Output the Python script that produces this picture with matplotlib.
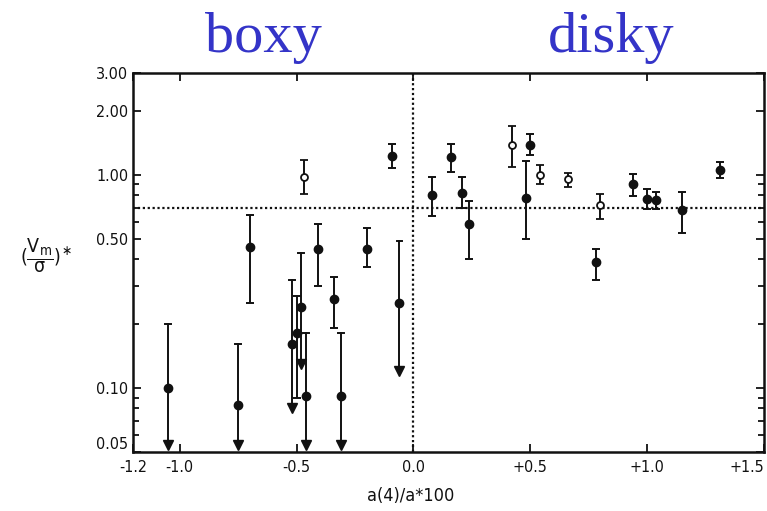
import matplotlib
matplotlib.use("Agg")
import matplotlib.pyplot as plt
import numpy as np

plt.rcParams['font.family'] = ['DejaVu Sans']
plt.rcParams['font.stretch'] = 'condensed'
plt.rcParams['axes.unicode_minus'] = False

# points with two-sided error bars: x, value, lower end, upper end
fx = [-0.09, -0.70, -0.41, -0.20, -0.34, -0.50,
      0.08, 0.16, 0.21, 0.24, 0.50, 0.48, 0.78, 0.94, 1.00, 1.04, 1.15, 1.31]
fy = [1.22, 0.46, 0.45, 0.45, 0.26, 0.18,
      0.80, 1.21, 0.82, 0.59, 1.38, 0.78, 0.39, 0.90, 0.77, 0.76, 0.68, 1.05]
f_lo = [1.07, 0.25, 0.30, 0.37, 0.19, 0.09,
        0.64, 1.03, 0.70, 0.40, 1.24, 0.50, 0.32, 0.79, 0.69, 0.69, 0.53, 0.96]
f_hi = [1.39, 0.65, 0.59, 0.56, 0.33, 0.27,
        0.98, 1.39, 0.98, 0.75, 1.55, 1.16, 0.45, 1.01, 0.86, 0.83, 0.83, 1.15]

# open symbols
ox = [-0.47, 0.42, 0.54, 0.66, 0.80]
oy = [0.97, 1.38, 1.00, 0.95, 0.72]
o_lo = [0.81, 1.09, 0.90, 0.88, 0.62]
o_hi = [1.17, 1.69, 1.11, 1.02, 0.81]

# upper limits: x, value, top of bar, arrow tip
ux = [-1.05, -0.75, -0.46, -0.31, -0.06, -0.48, -0.52]
uy = [0.10, 0.083, 0.092, 0.092, 0.25, 0.24, 0.16]
u_hi = [0.20, 0.16, 0.18, 0.18, 0.49, 0.43, 0.32]
u_tip = [0.054, 0.054, 0.054, 0.054, 0.12, 0.13, 0.08]

ink = '#111111'

fig = plt.figure(figsize=(7.67, 5.11), dpi=100)
ax = fig.add_axes([0.1734, 0.1155, 0.8226, 0.7417])
ax.set_yscale('log')

ax.axhline(0.7, color=ink, linestyle=(0, (1, 1.2)), linewidth=1.6, zorder=1)
ax.axvline(0.0, color=ink, linestyle=(0, (1, 1.2)), linewidth=1.6, zorder=1)

fy = np.array(fy)
ax.errorbar(fx, fy, yerr=[fy - np.array(f_lo), np.array(f_hi) - fy], fmt='o',
            color=ink, ms=6, elinewidth=1.4, capsize=3, capthick=1.4, zorder=3)
oy = np.array(oy)
ax.errorbar(ox, oy, yerr=[oy - np.array(o_lo), np.array(o_hi) - oy], fmt='o',
            color=ink, mfc='white', mec=ink, mew=1.3, ms=5, elinewidth=1.4,
            capsize=3, capthick=1.4, zorder=3)

for x, y, hi, tip in zip(ux, uy, u_hi, u_tip):
    ax.plot([x, x], [tip, hi], color=ink, lw=1.4, zorder=2)
    ax.plot([x - 0.012, x + 0.012], [hi, hi], color=ink, lw=1.4, zorder=2)
    ax.plot(x, tip, marker='v', color=ink, ms=7, clip_on=False, zorder=3)
    ax.plot(x, y, 'o', color=ink, ms=6, zorder=3)

ax.set_xlim(-1.2, 1.5)
ax.set_ylim(0.05, 3.0)

xt = [-1.2, -1.0, -0.5, 0.0, 0.5, 1.0, 1.5]
xt_labels = ['-1.2', '-1.0', '-0.5', '0.0', '+0.5', '+1.0', '+1.5']
ax.set_xticks(xt)
ax.set_xticklabels(xt_labels)
ax.get_xticklabels()[-1].set_horizontalalignment('right')

yt = [0.05, 0.10, 0.50, 1.00, 2.00, 3.00]
yt_labels = ['0.05', '0.10', '0.50', '1.00', '2.00', '3.00']
ax.set_yticks(yt)
ax.set_yticklabels(yt_labels)
ax.get_yticklabels()[0].set_verticalalignment('bottom')
ax.yaxis.set_minor_locator(matplotlib.ticker.LogLocator(subs=np.arange(2, 10)))
ax.yaxis.set_minor_formatter(matplotlib.ticker.NullFormatter())

ax.tick_params(which='both', direction='in', top=True, right=True,
               colors=ink, labelsize=11.5, width=1.3)
ax.tick_params(which='major', length=6)
ax.tick_params(which='minor', length=4)
ax.tick_params(axis='x', pad=6)
for s in ax.spines.values():
    s.set_linewidth(1.8)
    s.set_color(ink)

fig.text(0.535, 0.030, 'a(4)/a*100', ha='center', va='center', fontsize=13, color=ink)
fig.text(0.060, 0.50, r'$(\dfrac{\mathrm{V_m}}{\mathrm{\sigma}})^{\ast}$',
         ha='center', va='center', fontsize=14, color=ink)

fig.text(0.343, 0.925, 'boxy', ha='center', va='center', fontsize=42,
         family='Liberation Serif', color='#3434c8')
fig.text(0.797, 0.925, 'disky', ha='center', va='center', fontsize=42,
         family='Liberation Serif', color='#3434c8')

fig.savefig('out.png', dpi=100)
